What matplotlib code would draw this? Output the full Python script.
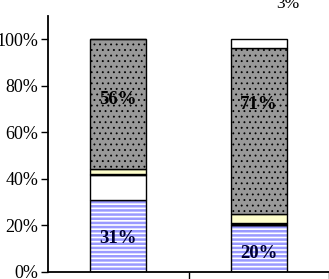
import matplotlib
matplotlib.use("Agg")
import matplotlib.pyplot as plt
import numpy as np

plt.rcParams['font.family'] = ['Liberation Serif', 'DejaVu Serif']

groups = [0, 1]
blue_vals = [31, 20]
white_vals = [10.5, 0]
black_vals = [0.5, 1]
yellow_vals = [2, 4]
dotted_vals = [56, 71]
top_vals = [0, 4]
blue_labels = ['31%', '20%']
dotted_labels = ['56%', '71%']
top_label = '3%'
yticks = [0, 20, 40, 60, 80, 100]

fig = plt.figure()
fig.set_size_inches(w=3.29, h=2.79)
ax = fig.add_axes([0.146, 0.026, 0.854, 0.917])

x = np.array(groups)
w = 0.4
bottom = np.zeros(2)
segments = [
    (blue_vals, 'white', '#9999ff', '----', 1.8),
    (white_vals, 'white', None, None, 1.0),
    (black_vals, 'black', None, None, 1.0),
    (yellow_vals, '#ffffcc', None, None, 1.0),
    (dotted_vals, '#999999', 'black', '...', 0.6),
    (top_vals, 'white', None, None, 1.0),
]
for vals, face, hcol, hatch, hlw in segments:
    vals = np.array(vals, dtype=float)
    plt.rcParams['hatch.linewidth'] = hlw
    if hatch:
        ax.bar(x, vals, w, bottom=bottom, color=face, edgecolor=hcol,
               hatch=hatch, linewidth=0)
        ax.bar(x, vals, w, bottom=bottom, fill=False, edgecolor='black',
               linewidth=1)
    else:
        ax.bar(x, vals, w, bottom=bottom, color=face, edgecolor='black',
               linewidth=1)
    bottom += vals

# label positions as placed in the original
blue_pos = [14.5, 8]
dotted_pos = [74, 72]
for i in range(2):
    ax.text(x[i], blue_pos[i], blue_labels[i], ha='center', va='center',
            fontsize=13.5, fontweight='bold', color='#000033')
    ax.text(x[i], dotted_pos[i], dotted_labels[i], ha='center', va='center',
            fontsize=13.5, fontweight='bold', color='black')
ax.text(1.21, 115, top_label, ha='center', va='center', fontsize=12.5,
        clip_on=False)

ax.set_xlim(-0.5, 1.5)
ax.set_ylim(0, 110)
ax.set_yticks(yticks)
ax.set_yticklabels([f'{t}%' for t in yticks], fontsize=13)
ax.set_xticks([0.5, 1.5])
ax.set_xticklabels([])
ax.tick_params(axis='both', direction='out', length=5, width=1, pad=2)
ax.spines['top'].set_visible(False)
ax.spines['right'].set_visible(False)
ax.spines['left'].set_linewidth(1.3)
ax.spines['bottom'].set_linewidth(1.3)

fig.savefig('out.png', dpi=100)
